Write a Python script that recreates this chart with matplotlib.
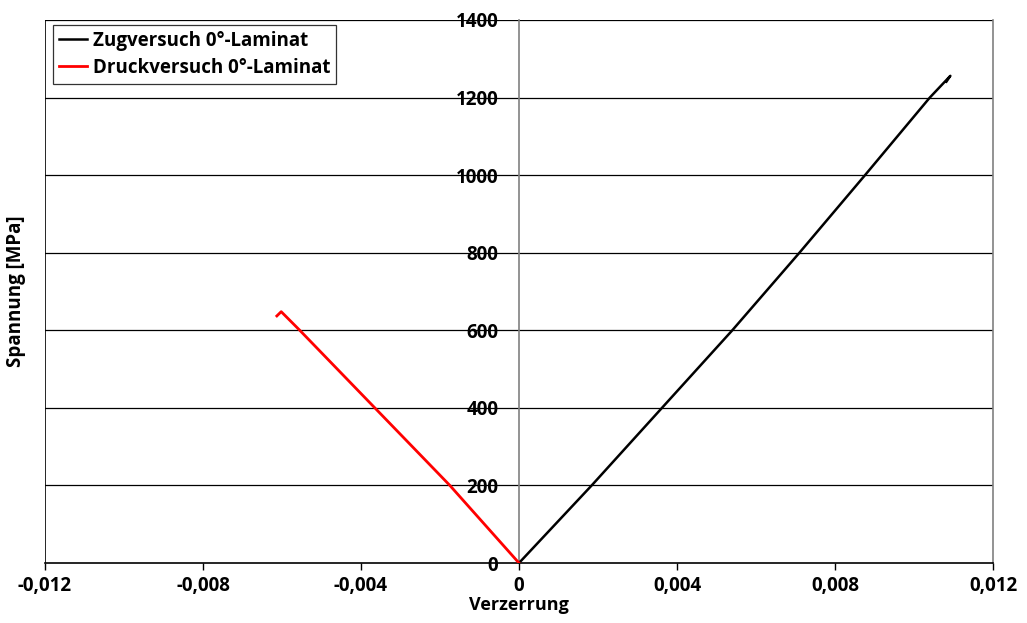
import numpy as np
import matplotlib
matplotlib.use("Agg")
import matplotlib.pyplot as plt
from matplotlib.ticker import FuncFormatter

plt.rcParams['font.family'] = ['Open Sans', 'DejaVu Sans']
plt.rcParams['font.weight'] = 'bold'

# ---------------------- Daten ----------------------
zug_eps = [0, 0.00184, 0.00362, 0.00540, 0.00710, 0.00876, 0.01040, 0.01092, 0.01082]
zug_sig = [0, 200, 400, 600, 800, 1000, 1200, 1256, 1241]

druck_eps = [0, -0.00175, -0.00365, -0.00555, -0.00602, -0.00613]
druck_sig = [0, 200, 400, 600, 648, 637]

x_ticks = [-0.012, -0.008, -0.004, 0, 0.004, 0.008, 0.012]
y_ticks = [0, 200, 400, 600, 800, 1000, 1200, 1400]

# ---------------------- Plot ----------------------
fig = plt.figure(figsize=(10.27, 6.23), dpi=100)
ax = fig.add_axes([0.0438, 0.0963, 0.9231, 0.8716])

ax.set_xlim(-0.012, 0.012)
ax.set_ylim(0, 1400)

for y in y_ticks[1:]:
    ax.axhline(y, color='black', lw=0.9, zorder=1)

ax.plot(zug_eps, zug_sig, color='black', lw=1.8, label='Zugversuch 0°-Laminat', zorder=4)
ax.plot(druck_eps, druck_sig, color='red', lw=2.0, label='Druckversuch 0°-Laminat', zorder=5)

# y-Achse in der Mitte
ax.spines['left'].set_position(('data', 0))
ax.spines['left'].set_color('#808080')
ax.spines['left'].set_linewidth(1.2)
ax.spines['right'].set_color('#808080')
ax.spines['right'].set_linewidth(1.2)
ax.spines['top'].set_visible(False)
ax.spines['bottom'].set_linewidth(1.2)
ax.axvline(ax.get_xlim()[0], color='black', lw=1.2, zorder=2)

ax.set_xticks(x_ticks)
ax.set_yticks(y_ticks)
ax.xaxis.set_major_formatter(FuncFormatter(lambda v, p: ('%g' % round(v, 4)).replace('.', ',')))
ax.tick_params(axis='x', direction='out', length=5, width=1, pad=4, labelsize=13.5)
ax.tick_params(axis='y', length=0, pad=15, labelsize=13.5)
for lab in ax.get_xticklabels() + ax.get_yticklabels():
    lab.set_fontweight('bold')

ax.set_xlabel('Verzerrung', fontsize=13, fontweight='bold', labelpad=0)
ax.set_ylabel('Spannung [MPa]', fontsize=13.5, fontweight='bold')
ax.yaxis.set_label_coords(-0.020, 0.5)

leg = ax.legend(loc='upper left', fontsize=13.5, frameon=True, fancybox=False,
                edgecolor='black', handlelength=1.5, handletextpad=0.35,
                borderpad=0.3, labelspacing=0.4, borderaxespad=0,
                bbox_to_anchor=(0.0084, 0.991))
leg.get_frame().set_linewidth(0.9)
for t in leg.get_texts():
    t.set_fontweight('bold')

fig.savefig('out.png', dpi=100)
